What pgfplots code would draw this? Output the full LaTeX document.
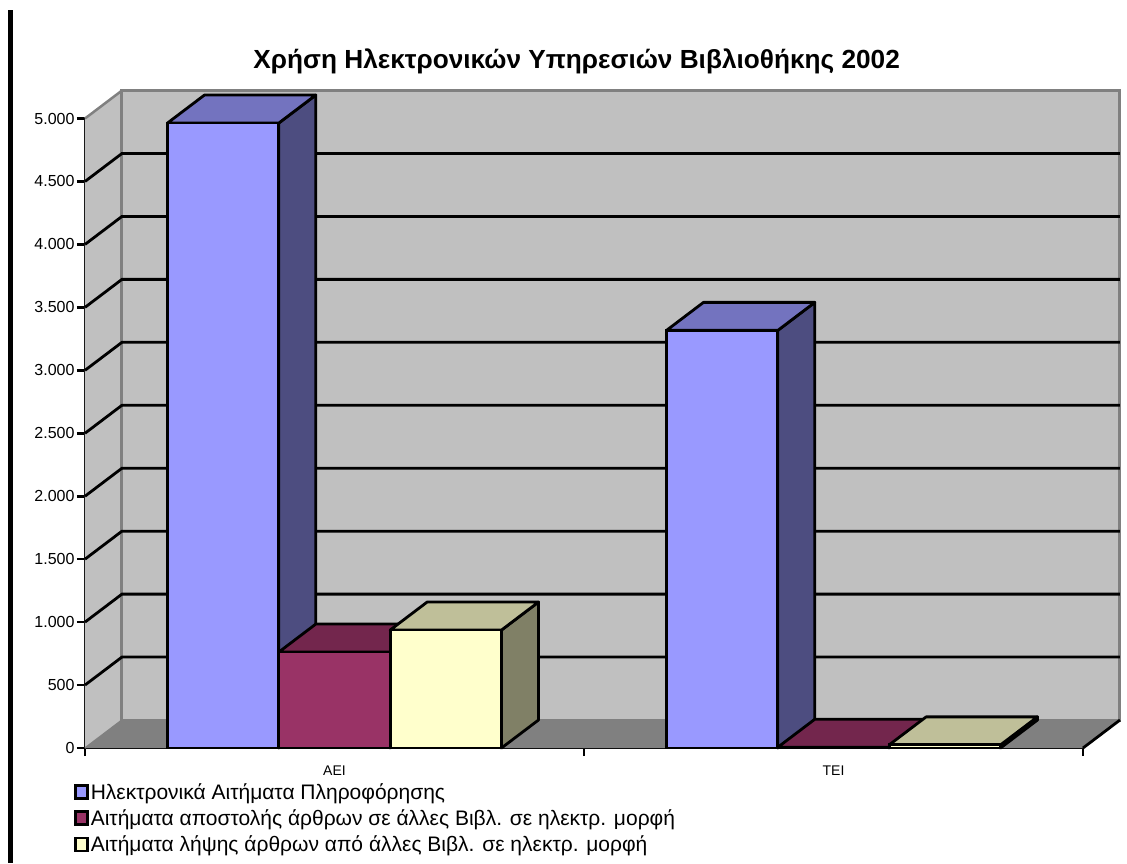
\documentclass[border=0pt]{standalone}
\usepackage{fontspec}
\setmainfont{Liberation Sans}
\usepackage{pgfplots}
\pgfplotsset{compat=1.18}

% 1pt here = 1px of the reference
\definecolor{wall}{HTML}{C0C0C0}
\definecolor{floorgr}{HTML}{808080}
\definecolor{blueF}{HTML}{9999FF}
\definecolor{blueT}{HTML}{7373BF}
\definecolor{blueS}{HTML}{4D4D80}
\definecolor{redF}{HTML}{993366}
\definecolor{redT}{HTML}{73264D}
\definecolor{redS}{HTML}{4D1A33}
\definecolor{yelF}{HTML}{FFFFCC}
\definecolor{yelT}{HTML}{BFBF99}
\definecolor{yelS}{HTML}{808066}

% depth offset of the fake 3D, in axis units
\def\dx{0.0741}
\def\dy{222.4}
\def\lw{2.8pt}

% top and side face of one bar: x0, x1, value, top colour, side colour
\newcommand\faces[5]{%
  \pgfmathsetmacro\xa{#1+\dx}%
  \pgfmathsetmacro\xb{#2+\dx}%
  \pgfmathsetmacro\yb{#3+\dy}%
  \addplot[forget plot,draw=black,line width=\lw,fill=#5,line join=round]
    coordinates {(#2,#3)(\xb,\yb)(\xb,\dy)(#2,0)} --cycle;
  \addplot[forget plot,draw=black,line width=\lw,fill=#4,line join=round]
    coordinates {(#1,#3)(#2,#3)(\xb,\yb)(\xa,\yb)} --cycle;
}

\begin{document}
\begin{tikzpicture}
\useasboundingbox (-85pt,-115pt) rectangle (1042pt,748pt);
\fill[black] (-77pt,-115pt) rectangle (-72pt,738pt);
\begin{axis}[
    at={(0pt,0pt)},
    anchor=south west,
    scale only axis,
    width=998pt,
    height=629.5pt,
    xmin=-0.5, xmax=1.5,
    ymin=0, ymax=5000,
    clip=false,
    axis lines=left,
    axis line style={-,line width=\lw,black},
    tick style={black,line width=2.6pt},
    major tick length=8pt,
    tick align=outside,
    xtick={-0.5,0.5,1.5},
    xticklabels={},
    extra x ticks={0,1},
    extra x tick labels={ΑΕΙ,ΤΕΙ},
    extra x tick style={major tick length=0pt,
      tick label style={font=\fontsize{14}{16}\selectfont,yshift=-14pt}},
    ytick={0,500,...,5000},
    yticklabel style={font=\fontsize{16}{18}\selectfont,xshift=1pt},
    /pgf/number format/assume math mode=true,
    /pgf/number format/1000 sep={.},
    title={\fontsize{26.2}{30}\selectfont\bfseries Χρήση Ηλεκτρονικών Υπηρεσιών Βιβλιοθήκης 2002},
    title style={at={(0.4926,1)},anchor=south,yshift=35pt},
    legend style={at={(-11pt,-33pt)},anchor=north west,draw=none,fill=none,
      font=\fontsize{21}{25}\selectfont,inner sep=0pt,
      /tikz/every even column/.style={column sep=0pt},
      row sep=5pt},
    legend cell align=left,
    legend image code/.code={\draw[#1,line width=2.6pt] (0pt,-6.5pt) rectangle (12pt,6.5pt);},
]
% walls and floor
\addplot[forget plot,draw=none,fill=wall] coordinates {(-0.5,0)(-0.4259,222.4)(-0.4259,5222.4)(-0.5,5000)} --cycle;
\addplot[forget plot,draw=floorgr,line width=3pt,fill=wall] coordinates {(-0.4259,222.4)(1.5741,222.4)(1.5741,5222.4)(-0.4259,5222.4)} --cycle;
\addplot[forget plot,draw=none,fill=floorgr] coordinates {(-0.5,0)(1.5,0)(1.5741,222.4)(-0.4259,222.4)} --cycle;
\addplot[forget plot,draw=floorgr,line width=2.5pt] coordinates {(-0.5,5000)(-0.4259,5222.4)};
\addplot[forget plot,draw=floorgr,line width=1.5pt] coordinates {(-0.5,0)(-0.4259,222.4)};
\addplot[forget plot,draw=black,line width=\lw] coordinates {(1.5,0)(1.5741,222.4)};
% gridlines on side wall and back wall
\pgfplotsinvokeforeach{500,1000,...,4500}{
  \pgfmathsetmacro\yg{#1+\dy}
  \addplot[forget plot,draw=black,line width=\lw] coordinates {(-0.5,#1)(-0.4259,\yg)(1.5741,\yg)};
}
% series 1
\faces{-0.3347}{-0.1116}{4964}{blueT}{blueS}
\faces{0.6653}{0.8884}{3317}{blueT}{blueS}
\addplot[ybar,bar width=111.3pt,bar shift=-111.3pt,draw=black,line width=\lw,fill=blueF]
  coordinates {(0,4964)(1,3317)};
% series 2
\faces{-0.1116}{0.1116}{762}{redT}{redS}
\faces{0.8884}{1.1116}{6}{redT}{redS}
\addplot[ybar,bar width=111.3pt,bar shift=0pt,draw=black,line width=\lw,fill=redF]
  coordinates {(0,762)(1,6)};
% series 3
\faces{0.1116}{0.3347}{937}{yelT}{yelS}
\faces{1.1116}{1.3347}{25}{yelT}{yelS}
\addplot[ybar,bar width=111.3pt,bar shift=111.3pt,draw=black,line width=\lw,fill=yelF]
  coordinates {(0,937)(1,25)};
\legend{Ηλεκτρονικά Αιτήματα Πληροφόρησης,
  Αιτήματα αποστολής άρθρων σε άλλες Βιβλ. σε ηλεκτρ. μορφή,
  Αιτήματα λήψης άρθρων από άλλες Βιβλ. σε ηλεκτρ. μορφή}
\end{axis}
\end{tikzpicture}
\end{document}
